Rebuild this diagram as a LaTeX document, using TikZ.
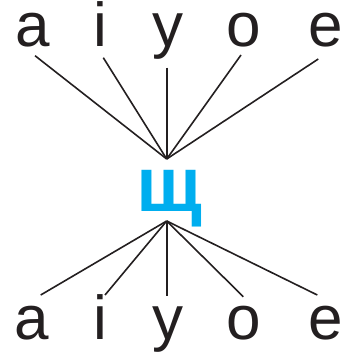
\documentclass[tikz,border=0pt]{standalone}
\usepackage{fontspec}
\setmainfont{Liberation Sans}
\definecolor{shcyan}{HTML}{00AEEF}
\definecolor{ink}{HTML}{231F20}
\begin{document}
\begin{tikzpicture}[x=1pt,y=1pt,
  letter/.style={font=\fontsize{62}{62}\selectfont, inner sep=0pt, anchor=base, text=ink, text height=44pt, text depth=12pt},
  hubletter/.style={font=\bfseries\fontsize{78}{78}\selectfont, inner sep=0pt, anchor=base, text=shcyan},
  link/.style={line width=1.6pt, ink}]
\useasboundingbox (0,0) rectangle (351,353);
% top row
\node[letter] (ta) at (32.5,306) {a};
\node[letter] (ti) at (100.5,306) {i};
\node[letter] (ty) at (168,306) {y};
\node[letter] (to) at (244,306) {o};
\node[letter] (te) at (326,306) {e};
% bottom row
\node[letter] (ba) at (31.5,13) {a};
\node[letter] (bi) at (100.5,13) {i};
\node[letter] (by) at (168,13) {y};
\node[letter] (bo) at (244,13) {o};
\node[letter] (be) at (326,13) {e};
% centre
\node[hubletter] (sh) at (169.5,141.3) {щ};
\coordinate (thub) at (166.7,194);
\coordinate (bhub) at (166.7,132);
% line ends near letters
\coordinate (ta1) at (35,297.3);
\coordinate (ti1) at (103.3,295.3);
\coordinate (ty1) at (166.7,285.3);
\coordinate (to1) at (241,298);
\coordinate (te1) at (318.3,294);
\coordinate (ba1) at (40.7,58);
\coordinate (bi1) at (105,58);
\coordinate (by1) at (166.7,57.3);
\coordinate (bo1) at (243.3,56.3);
\coordinate (be1) at (317.3,58);
\foreach \n in {ta1,ti1,ty1,to1,te1} \draw[link] (\n) -- (thub);
\foreach \n in {ba1,bi1,by1,bo1,be1} \draw[link] (bhub) -- (\n);
\end{tikzpicture}
\end{document}
